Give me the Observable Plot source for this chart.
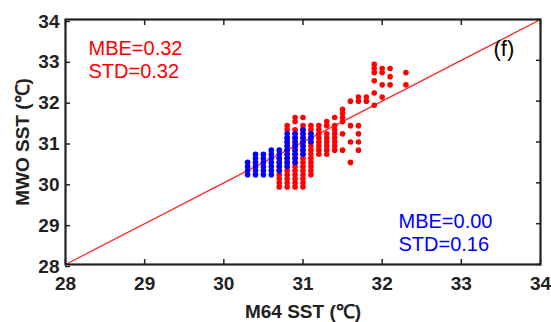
<!DOCTYPE html>
<html>
<head>
<meta charset="utf-8">
<script src="https://cdn.jsdelivr.net/npm/d3@7"></script>
<script src="https://cdn.jsdelivr.net/npm/@observablehq/plot@0.6"></script>
<style>
  html, body { margin: 0; padding: 0; background: #fff; }
</style>
</head>
<body>
<div id="chart"></div>
<script>
// Axis ticks
const xTicks = [28, 29, 30, 31, 32, 33, 34];
const yTicks = [28, 29, 30, 31, 32, 33, 34];
const xTitle = "M64 SST (℃)";
const yTitle = "MWO SST (℃)";
const redStats = "MBE=0.32\nSTD=0.32";
const blueStats = "MBE=0.00\nSTD=0.16";
const panelLabel = "(f)";

// Red series: [M64 SST, [MWO SST values]]
const redColumns = [
  [30.7, [29.9, 30.0, 30.1, 30.2, 30.3, 30.4, 30.5, 30.6]],
  [30.8, [29.9, 30.0, 30.1, 30.2, 30.3, 30.4, 30.5, 30.6, 30.7, 30.8, 30.9, 31.0, 31.1, 31.3, 31.4]],
  [30.9, [29.9, 30.0, 30.1, 30.2, 30.3, 30.4, 30.5, 30.6, 30.7, 30.8, 30.9, 31.0, 31.1, 31.2, 31.3, 31.5, 31.6]],
  [31.0, [29.9, 30.0, 30.1, 30.2, 30.3, 30.4, 30.5, 30.6, 30.7, 30.8, 30.9, 31.0, 31.1, 31.2, 31.3, 31.4, 31.6]],
  [31.1, [30.2, 30.3, 30.4, 30.5, 30.6, 30.7, 30.8, 30.9, 31.0, 31.1, 31.2, 31.3, 31.4]],
  [31.2, [30.7, 30.8, 30.9, 31.0, 31.1, 31.2, 31.3, 31.4]],
  [31.3, [30.7, 30.8, 30.9, 31.0, 31.1, 31.2, 31.4, 31.5]],
  [31.4, [30.8, 30.9, 31.0, 31.1, 31.2, 31.3, 31.4, 31.6]],
  [31.5, [30.8, 31.2, 31.5, 31.6, 31.7, 31.8]],
  [31.6, [30.5, 31.0, 31.4, 32.0]],
  [31.7, [30.8, 31.0, 31.2, 31.4, 32.0, 32.1]],
  [31.8, [32.0, 32.1]],
  [31.9, [31.9, 32.2, 32.5, 32.7, 32.8, 32.9]],
  [32.0, [32.1, 32.4, 32.7, 32.8]],
  [32.1, [32.4, 32.6, 32.8]],
  [32.3, [32.4, 32.7]]
];

// Blue series: [M64 SST, [MWO SST values]]
const blueColumns = [
  [30.3, [30.2, 30.3, 30.4, 30.5]],
  [30.4, [30.2, 30.3, 30.4, 30.5, 30.6, 30.7]],
  [30.5, [30.2, 30.3, 30.4, 30.5, 30.6, 30.7]],
  [30.6, [30.2, 30.3, 30.4, 30.5, 30.6, 30.7, 30.8]],
  [30.7, [30.3, 30.4, 30.5, 30.6, 30.7, 30.8]],
  [30.8, [30.4, 30.5, 30.6, 30.7, 30.8, 30.9, 31.0, 31.1, 31.2]],
  [30.9, [30.5, 30.6, 30.7, 30.8, 30.9, 31.0, 31.1, 31.2]],
  [31.0, [30.7, 30.8, 30.9, 31.0, 31.1, 31.2, 31.3]],
  [31.1, [31.0, 31.1, 31.2]]
];

// 1:1 line endpoints
const oneToOne = [{x: 28, y: 28}, {x: 34, y: 34}];

const flat = cols => cols.flatMap(([x, ys]) => ys.map(y => ({x, y})));
const red = flat(redColumns);
const blue = flat(blueColumns);

const font = "'Liberation Sans', Arial, Helvetica, sans-serif";
const intFmt = d => String(d);

const chart = Plot.plot({
  width: 551,
  height: 322,
  marginLeft: 65,
  marginRight: 11,
  marginTop: 19,
  marginBottom: 58,
  x: {domain: [28, 34]},
  y: {domain: [28, 34]},
  style: {fontFamily: font, background: "#fff", color: "#222", overflow: "visible"},
  marks: [
    Plot.line(oneToOne, {x: "x", y: "y", stroke: "#ff2020", strokeWidth: 1.2}),
    Plot.dot(red, {x: "x", y: "y", r: 2.8, fill: "#ff0000", stroke: "none"}),
    Plot.dot(blue, {x: "x", y: "y", r: 2.8, fill: "#0000ff", stroke: "none"}),
    Plot.axisX({anchor: "bottom", ticks: xTicks, tickFormat: intFmt, tickSize: -5, tickPadding: 17, label: null,
      fontSize: 19, fontWeight: "bold", fill: "#222", stroke: "#222", strokeWidth: 1.5}),
    Plot.axisX({anchor: "top", ticks: xTicks, tickSize: -5, tickFormat: () => "", label: null,
      stroke: "#222", strokeWidth: 1.5}),
    Plot.axisY({anchor: "left", ticks: yTicks, tickFormat: intFmt, tickSize: -5, tickPadding: 11, label: null,
      fontSize: 19, fontWeight: "bold", fill: "#222", stroke: "#222", strokeWidth: 1.5, dy: 2}),
    Plot.axisY({anchor: "right", ticks: yTicks, tickSize: -5, tickFormat: () => "", label: null,
      stroke: "#222", strokeWidth: 1.5}),
    Plot.frame({stroke: "#222", strokeWidth: 2.2}),
    Plot.text([xTitle], {frameAnchor: "bottom", dy: 47, lineAnchor: "middle", textAnchor: "middle",
      fontSize: 19, fontWeight: "bold", fill: "#222"}),
    Plot.text([yTitle], {frameAnchor: "left", dx: -43, rotate: -90, lineAnchor: "middle", textAnchor: "middle",
      fontSize: 19, fontWeight: "bold", fill: "#222"}),
    Plot.text([redStats], {frameAnchor: "top-left", dx: 23, dy: 19, lineAnchor: "top", textAnchor: "start",
      fontSize: 20, lineHeight: 1.15, fill: "#ff0000"}),
    Plot.text([blueStats], {frameAnchor: "bottom-left", dx: 333, dy: -53, lineAnchor: "top", textAnchor: "start",
      fontSize: 20, lineHeight: 1.15, fill: "#0000ff"}),
    Plot.text([panelLabel], {frameAnchor: "top-right", dx: -47, dy: 21, lineAnchor: "top", textAnchor: "start",
      fontSize: 22, fill: "#000"})
  ]
});
document.getElementById("chart").appendChild(chart);
</script>
</body>
</html>
